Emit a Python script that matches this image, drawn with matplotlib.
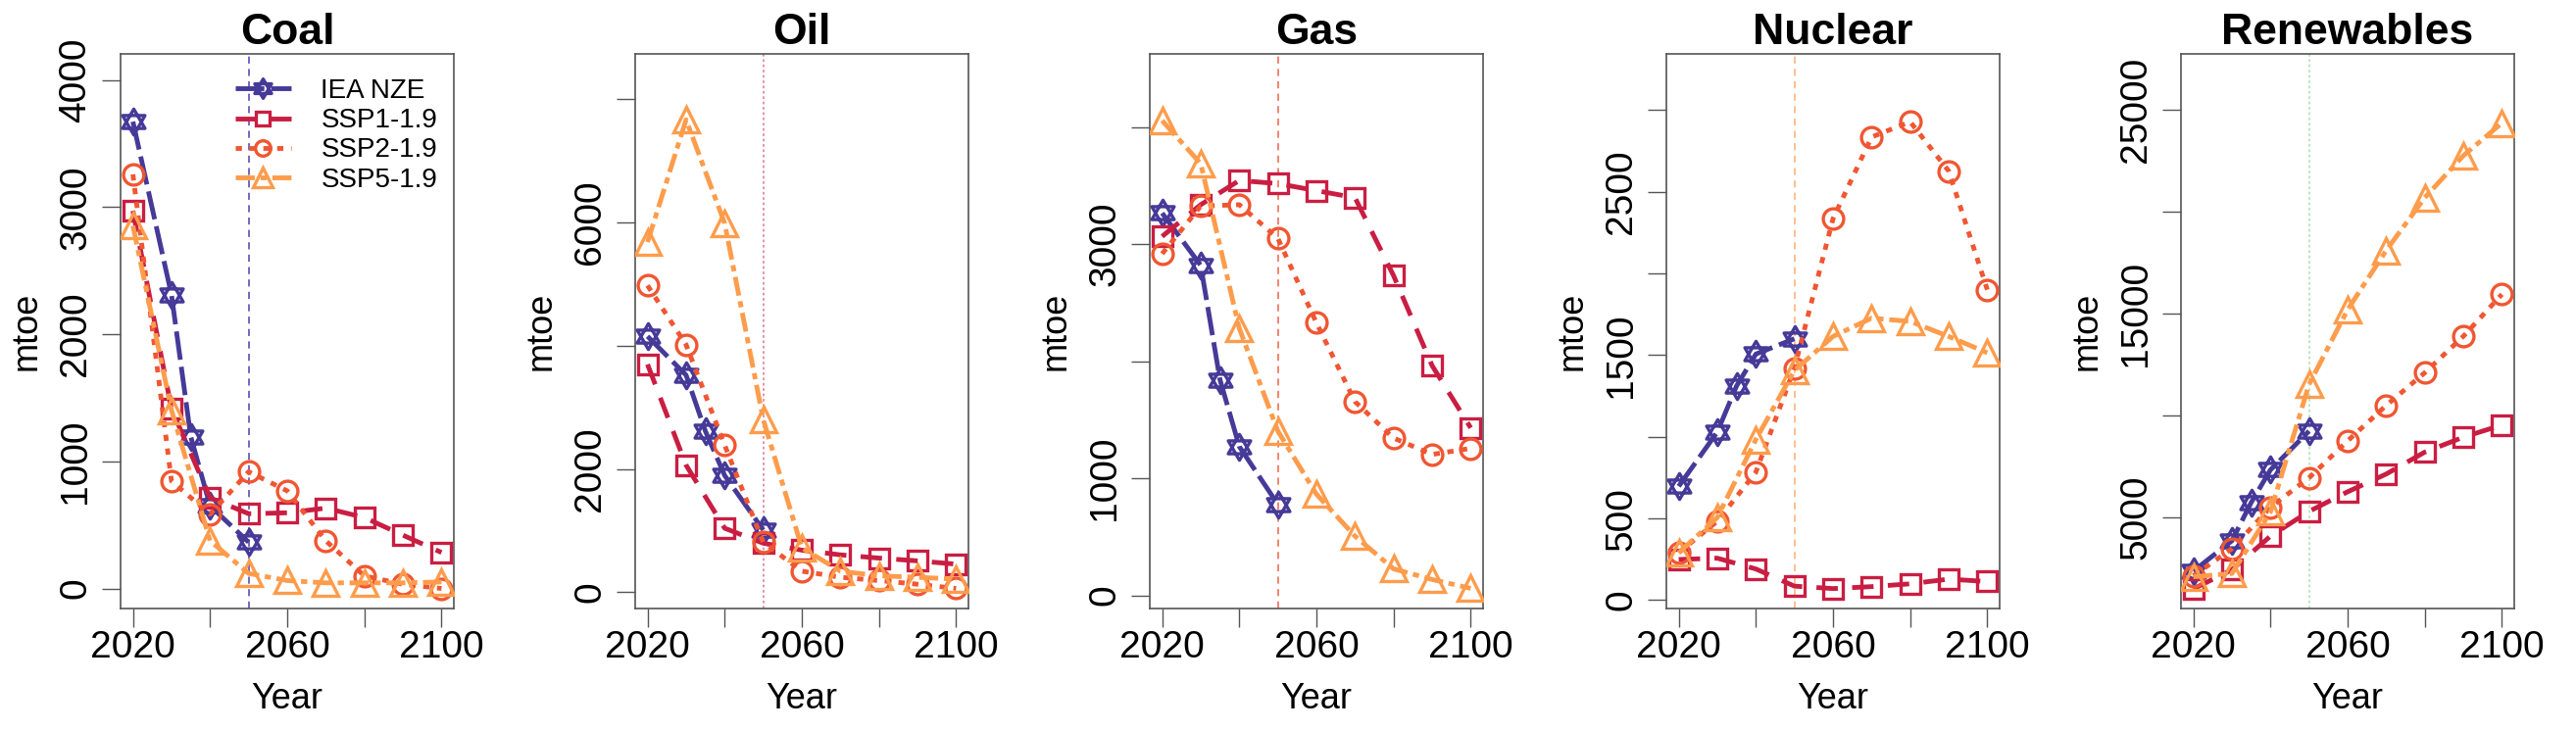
import matplotlib
matplotlib.use("Agg")
import matplotlib.pyplot as plt
from matplotlib.path import Path

plt.rcParams['font.family'] = ['Liberation Sans', 'DejaVu Sans']

# years
years = [2020, 2030, 2040, 2050, 2060, 2070, 2080, 2090, 2100]
iea_years = [2020, 2030, 2035, 2040, 2050]

# Coal (mtoe)
coal_iea = [3673, 2310, 1194, 650, 364]
coal_ssp1 = [2971, 1414, 713, 588, 595, 632, 558, 419, 283]
coal_ssp2 = [3258, 845, 584, 918, 768, 375, 99, 33, 0]
coal_ssp5 = [2854, 1403, 375, 118, 62, 44, 44, 44, 51]

# Oil
oil_iea = [4152, 3523, 2614, 1894, 1008]
oil_ssp1 = [3697, 2061, 1038, 795, 682, 606, 553, 508, 455]
oil_ssp2 = [4977, 4015, 2386, 811, 341, 242, 189, 129, 61]
oil_ssp5 = [5682, 7667, 5985, 2803, 720, 341, 265, 242, 212]

# Gas
gas_iea = [3265, 2819, 1842, 1272, 777]
gas_ssp1 = [3066, 3337, 3544, 3517, 3457, 3397, 2731, 1962, 1431]
gas_ssp2 = [2918, 3325, 3337, 3050, 2328, 1655, 1344, 1204, 1256]
gas_ssp5 = [4055, 3688, 2281, 1403, 865, 506, 227, 136, 60]

# Nuclear
nuc_iea = [697, 1029, 1311, 1506, 1600]
nuc_ssp1 = [249, 257, 191, 86, 71, 83, 100, 129, 114]
nuc_ssp2 = [291, 483, 783, 1420, 2334, 2834, 2928, 2626, 1900]
nuc_ssp5 = [291, 506, 983, 1406, 1614, 1726, 1706, 1614, 1514]

# Renewables
ren_iea = [2369, 3856, 5732, 7334, 9233]
ren_ssp1 = [1499, 2437, 4085, 5297, 6258, 7128, 8203, 8935, 9530]
ren_ssp2 = [2140, 3467, 5503, 6945, 8752, 10491, 12093, 13877, 15937]
ren_ssp5 = [2094, 2254, 5275, 11521, 15182, 18088, 20673, 22732, 24334]

titles = ["Coal", "Oil", "Gas", "Nuclear", "Renewables"]
series_labels = ["IEA NZE", "SSP1-1.9", "SSP2-1.9", "SSP5-1.9"]

panels = [
    (coal_iea, coal_ssp1, coal_ssp2, coal_ssp5),
    (oil_iea, oil_ssp1, oil_ssp2, oil_ssp5),
    (gas_iea, gas_ssp1, gas_ssp2, gas_ssp5),
    (nuc_iea, nuc_ssp1, nuc_ssp2, nuc_ssp5),
    (ren_iea, ren_ssp1, ren_ssp2, ren_ssp5),
]

yticks = [
    [0, 1000, 2000, 3000, 4000],
    [0, 2000, 4000, 6000, 8000],
    [0, 1000, 2000, 3000, 4000],
    [0, 500, 1000, 1500, 2000, 2500, 3000],
    [5000, 10000, 15000, 20000, 25000],
]
ytick_labels = [
    ["0", "1000", "2000", "3000", "4000"],
    ["0", "2000", "", "6000", ""],
    ["0", "1000", "", "3000", ""],
    ["0", "500", "", "1500", "", "2500", ""],
    ["5000", "", "15000", "", "25000"],
]
ylims = [(-158, 4206), (-265, 8735), (-112, 4625), (-51, 3343), (538, 27720)]

colors = ["#463A98", "#C91E42", "#F05632", "#FE9C4C"]
vline_colors = ["#6A5CB8", "#E28CA0", "#F27A62", "#FDBA88", "#B8E4B8"]
vline_styles = [(0, (4, 3)), (0, (1.5, 1.5)), (0, (4, 3)), (0, (4, 3)), (0, (1.5, 1.5))]

# hexagram marker (two overlapping triangles)
hexagram = Path(
    [(0, 1), (-0.866, -0.5), (0.866, -0.5), (0, 1),
     (0, -1), (-0.866, 0.5), (0.866, 0.5), (0, -1)],
    [Path.MOVETO, Path.LINETO, Path.LINETO, Path.CLOSEPOLY,
     Path.MOVETO, Path.LINETO, Path.LINETO, Path.CLOSEPOLY],
)
markers = [hexagram, "s", "o", "^"]
msizes = [19, 14, 15, 19]
lstyles = [(0, (6, 1.5)), (0, (4.5, 3)), (0, (1.3, 1.6)), (0, (4, 1.2, 1.3, 1.2))]

fig = plt.figure(figsize=(26.28, 7.46), dpi=100)
W, H = 2628, 746
lefts = [123, 648, 1173, 1700, 2225]

for i, title in enumerate(titles):
    ax = fig.add_axes([lefts[i] / W, (H - 621) / H, 340 / W, 566 / H])
    data = panels[i]
    ax.axvline(2050, color=vline_colors[i], lw=1.3, linestyle=vline_styles[i], zorder=1)
    for j in range(4):
        xs = iea_years if j == 0 else years
        ax.plot(xs, data[j], color=colors[j], lw=3.5, linestyle=lstyles[j],
                marker=markers[j], markersize=msizes[j], markerfacecolor="none",
                markeredgewidth=2.4, markeredgecolor=colors[j],
                label=series_labels[j], zorder=3)
    ax.set_xlim(2016.8, 2103.2)
    ax.set_ylim(*ylims[i])
    ax.set_xticks([2020, 2040, 2060, 2080, 2100])
    ax.set_xticklabels(["2020", "", "2060", "", "2100"])
    ax.set_yticks(yticks[i])
    ax.set_yticklabels(ytick_labels[i], rotation=90, va="center")
    ax.tick_params(axis="both", labelsize=28, length=14, width=1, color="#555555")
    ax.tick_params(axis="x", pad=2)
    ax.tick_params(axis="y", pad=6)
    for sp in ax.spines.values():
        sp.set_color("#555555")
        sp.set_linewidth(1.2)
    ax.set_title(title, fontsize=32, fontweight="bold", pad=7)
    ax.set_xlabel("Year", fontsize=26)
    ax.set_ylabel("mtoe", fontsize=26)
    ax.xaxis.set_label_coords(0.5, -0.163)
    ax.xaxis.label.set_va("center")
    ax.yaxis.set_label_coords(-0.282, 0.5)
    ax.yaxis.label.set_va("center")
    if i == 0:
        ax.legend(loc="upper right", bbox_to_anchor=(1.0, 0.985), frameon=False,
                  fontsize=20, handlelength=2.05, handletextpad=1.1,
                  labelspacing=0.15, borderaxespad=0.2, markerscale=0.75)

fig.savefig("out.png", dpi=100)
